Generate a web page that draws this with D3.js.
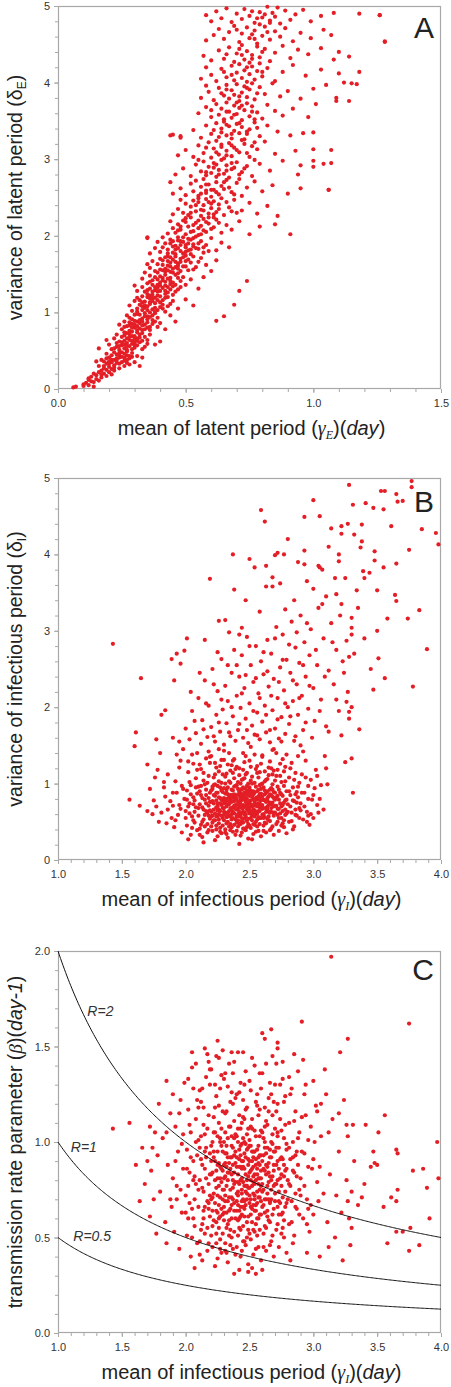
<!DOCTYPE html>
<html><head><meta charset="utf-8">
<script src="https://cdn.jsdelivr.net/npm/d3@7"></script>
<style>body{margin:0;background:#fff}svg{display:block}</style>
</head><body>
<svg id="c" width="451" height="1387"></svg>
<script>
// Panel A: mean vs variance of latent period
const latentPoints = [
[.06,.02],[.07,.03],[.10,.06],[.11,.08],[.12,.05],[.13,.10],[.12,.12],[.14,.09],[.15,.13],[.16,.11],[.17,.15],[.15,.18],[.18,.20],[.13,.16],[.19,.17],[.20,.22],[.17,.24],[.21,.19],[.16,.22],[.10,.04],[.14,.03],[.19,.25],[.22,.24],
[.16,.30],[.18,.27],[.19,.33],[.20,.29],[.21,.35],[.22,.31],[.23,.38],[.24,.33],[.25,.42],[.23,.45],[.26,.37],[.27,.44],[.28,.40],[.22,.48],[.20,.41],[.19,.46],[.25,.48],[.29,.47],[.30,.35],[.26,.30],[.24,.27],[.31,.43],[.17,.38],[.21,.26],[.28,.32],[.33,.41],[.18,.36],[.27,.49],[.24,.47],[.32,.30],[.15,.36],
[.21,.52],[.23,.55],[.25,.57],[.26,.53],[.27,.60],[.28,.56],[.29,.63],[.30,.58],[.31,.66],[.24,.62],[.22,.66],[.26,.70],[.28,.72],[.30,.69],[.32,.61],[.33,.73],[.34,.55],[.35,.64],[.27,.51],[.29,.52],[.25,.68],[.20,.58],[.31,.74],[.36,.71],[.38,.58],[.23,.71],[.27,.66],[.33,.52],[.40,.62],[.19,.64],[.30,.54],[.32,.67],
[.25,.78],[.27,.82],[.28,.76],[.29,.85],[.30,.80],[.31,.88],[.32,.79],[.33,.92],[.34,.84],[.35,.95],[.36,.81],[.37,.90],[.30,.97],[.28,.93],[.26,.88],[.33,.77],[.38,.99],[.40,.86],[.42,.78],[.24,.84],[.31,.98],[.35,.87],[.39,.93],[.44,.96],[.27,.96],[.32,.86],[.36,.77],[.46,.88],[.29,.91],[.34,.99],
[.29,1.02],[.31,1.05],[.32,1.10],[.33,1.03],[.34,1.14],[.35,1.08],[.36,1.18],[.37,1.04],[.38,1.12],[.39,1.22],[.40,1.07],[.41,1.16],[.42,1.01],[.43,1.20],[.30,1.15],[.28,1.09],[.35,1.24],[.38,1.19],[.44,1.11],[.47,1.05],[.50,1.17],[.36,1.00],[.33,1.21],[.45,1.23],[.40,1.13],[.31,1.19],[.37,1.23],[.53,1.09],[.42,1.24],[.34,1.06],
[.31,1.28],[.33,1.33],[.34,1.27],[.35,1.38],[.36,1.31],[.37,1.42],[.38,1.29],[.39,1.36],[.40,1.47],[.41,1.32],[.42,1.40],[.43,1.26],[.44,1.45],[.45,1.34],[.46,1.49],[.47,1.30],[.48,1.41],[.36,1.48],[.33,1.44],[.39,1.27],[.50,1.36],[.52,1.43],[.55,1.31],[.42,1.49],[.38,1.46],[.44,1.37],[.30,1.35],[.57,1.46],[.46,1.27],[.40,1.39],
[.34,1.52],[.36,1.58],[.38,1.54],[.39,1.63],[.40,1.56],[.41,1.68],[.42,1.53],[.43,1.61],[.44,1.72],[.45,1.57],[.46,1.66],[.47,1.51],[.48,1.70],[.49,1.60],[.50,1.74],[.51,1.55],[.52,1.65],[.43,1.73],[.40,1.70],[.37,1.67],[.54,1.59],[.56,1.71],[.58,1.62],[.47,1.64],[.45,1.52],[.60,1.54],[.35,1.63],[.53,1.73],[.62,1.68],[.44,1.60],
[.36,1.77],[.38,1.84],[.40,1.79],[.42,1.90],[.43,1.82],[.44,1.95],[.45,1.78],[.46,1.87],[.47,1.98],[.48,1.80],[.49,1.92],[.50,1.85],[.51,1.96],[.52,1.76],[.53,1.89],[.54,1.99],[.55,1.83],[.56,1.93],[.57,1.78],[.58,1.88],[.60,1.97],[.62,1.81],[.35,1.97],[.41,1.98],[.64,1.91],[.48,1.93],[.45,1.86],[.67,1.85],[.52,1.82],[.39,1.92],
[.43,2.03],[.45,2.10],[.46,2.04],[.47,2.15],[.48,2.08],[.49,2.20],[.50,2.02],[.51,2.12],[.52,2.24],[.53,2.06],[.54,2.17],[.55,2.01],[.56,2.13],[.57,2.22],[.58,2.05],[.59,2.16],[.60,2.09],[.62,2.21],[.64,2.04],[.66,2.14],[.44,2.19],[.50,2.23],[.68,2.08],[.71,2.19],[.75,2.02],[.55,2.10],[.61,2.24],[.47,2.07],[.79,2.12],[.58,2.18],
[.45,2.28],[.47,2.35],[.49,2.30],[.50,2.42],[.51,2.27],[.52,2.38],[.53,2.46],[.54,2.32],[.55,2.44],[.56,2.26],[.57,2.40],[.58,2.48],[.59,2.29],[.60,2.36],[.61,2.45],[.62,2.31],[.63,2.41],[.65,2.27],[.67,2.37],[.69,2.47],[.72,2.33],[.75,2.43],[.78,2.29],[.48,2.47],[.56,2.34],[.64,2.49],[.82,2.39],[.86,2.26],[.60,2.42],[.70,2.30],
[.45,2.55],[.48,2.62],[.50,2.53],[.52,2.68],[.53,2.58],[.54,2.72],[.55,2.52],[.56,2.64],[.57,2.74],[.58,2.56],[.59,2.67],[.60,2.51],[.61,2.60],[.62,2.70],[.63,2.54],[.64,2.65],[.66,2.73],[.68,2.57],[.70,2.69],[.72,2.52],[.74,2.63],[.77,2.71],[.80,2.58],[.84,2.66],[.90,2.55],[.95,2.62],[1.06,2.60],[.44,2.70],[.58,2.59],[.65,2.61],
[.46,2.80],[.49,2.88],[.52,2.78],[.54,2.93],[.56,2.84],[.57,2.97],[.58,2.79],[.59,2.90],[.60,2.82],[.61,2.95],[.62,2.77],[.63,2.86],[.64,2.99],[.65,2.81],[.66,2.92],[.67,2.76],[.68,2.87],[.70,2.96],[.72,2.83],[.74,2.91],[.76,2.78],[.79,2.94],[.83,2.85],[.88,2.98],[.94,2.80],[1.00,2.90],[.55,2.99],[.69,2.89],[.77,2.99],[.62,2.93],
[.47,3.05],[.50,3.12],[.53,3.03],[.55,3.18],[.57,3.08],[.59,3.22],[.60,3.02],[.61,3.14],[.62,3.24],[.63,3.06],[.64,3.16],[.65,3.01],[.66,3.11],[.67,3.21],[.68,3.04],[.69,3.15],[.71,3.09],[.73,3.20],[.75,3.03],[.78,3.13],[.81,3.23],[.85,3.07],[.93,3.11],[1.00,3.13],[1.07,3.12],[.58,3.15],[.72,3.25],[.64,3.19],[.76,3.17],
[.45,3.32],[.48,3.30],[.53,3.38],[.56,3.28],[.58,3.44],[.60,3.33],[.62,3.47],[.63,3.29],[.64,3.40],[.65,3.49],[.66,3.31],[.67,3.43],[.68,3.27],[.69,3.37],[.70,3.46],[.71,3.34],[.72,3.42],[.73,3.26],[.75,3.39],[.77,3.48],[.79,3.30],[.82,3.44],[.86,3.36],[.91,3.31],[.96,3.34],[1.00,3.35],[.61,3.38],[.74,3.33],[.66,3.45],
[.55,3.60],[.58,3.68],[.60,3.55],[.62,3.72],[.63,3.58],[.64,3.66],[.65,3.52],[.66,3.74],[.67,3.62],[.68,3.54],[.69,3.70],[.70,3.59],[.71,3.67],[.72,3.51],[.73,3.64],[.74,3.73],[.75,3.56],[.76,3.69],[.78,3.61],[.80,3.53],[.82,3.71],[.85,3.63],[.88,3.57],[.92,3.66],[.98,3.55],[1.01,3.72],[.60,3.64],[.70,3.74],[.77,3.52],
[.56,3.80],[.59,3.88],[.61,3.77],[.63,3.93],[.65,3.83],[.66,3.97],[.67,3.79],[.68,3.90],[.69,3.84],[.70,3.98],[.71,3.76],[.72,3.87],[.73,3.95],[.74,3.81],[.75,3.91],[.77,3.78],[.79,3.94],[.81,3.85],[.84,3.99],[.87,3.82],[.90,3.89],[.95,3.79],[1.00,3.92],[1.05,3.97],[1.09,3.80],[.64,3.86],[.76,3.99],[.58,3.96],
[.56,4.05],[.60,4.10],[.62,4.02],[.64,4.18],[.66,4.07],[.68,4.22],[.69,4.03],[.70,4.13],[.71,4.24],[.72,4.06],[.73,4.16],[.74,4.01],[.75,4.11],[.76,4.21],[.77,4.04],[.78,4.15],[.80,4.08],[.82,4.19],[.85,4.02],[.88,4.14],[.92,4.23],[.97,4.09],[1.03,4.17],[1.10,4.12],[.65,4.14],[.79,4.25],[.58,4.20],
[.57,4.35],[.60,4.29],[.63,4.42],[.65,4.31],[.67,4.46],[.69,4.27],[.70,4.38],[.72,4.49],[.73,4.30],[.74,4.41],[.75,4.26],[.76,4.36],[.78,4.47],[.79,4.33],[.81,4.44],[.83,4.28],[.85,4.39],[.88,4.48],[.91,4.32],[.94,4.43],[.98,4.37],[1.03,4.45],[1.08,4.30],[1.14,4.34],[.71,4.44],[.66,4.37],
[.58,4.55],[.61,4.62],[.63,4.70],[.65,4.57],[.67,4.66],[.69,4.74],[.71,4.53],[.72,4.64],[.74,4.72],[.75,4.58],[.77,4.68],[.78,4.51],[.80,4.61],[.81,4.73],[.83,4.56],[.85,4.67],[.87,4.60],[.89,4.71],[.92,4.54],[.95,4.65],[.99,4.58],[1.04,4.69],[1.07,4.62],[1.28,4.54],[.76,4.63],[.70,4.69],
[.58,4.88],[.60,4.80],[.62,4.93],[.64,4.84],[.66,4.97],[.68,4.79],[.70,4.90],[.72,4.83],[.73,4.96],[.75,4.87],[.77,4.78],[.79,4.92],[.80,4.85],[.82,4.99],[.83,4.81],[.84,4.91],[.85,4.86],[.87,4.77],[.89,4.94],[.91,4.82],[.93,4.89],[.96,4.95],[.99,4.80],[1.03,4.87],[1.08,4.91],[1.18,4.90],[1.26,4.88],[.86,4.98],[.78,4.84],
[.20,.33],[.23,.40],[.26,.46],[.21,.44],[.25,.35],[.28,.43],[.22,.28],[.19,.40],[.27,.34],[.24,.41],
[.26,.58],[.28,.64],[.30,.61],[.24,.56],[.27,.73],[.31,.57],[.29,.69],[.23,.60],[.34,.68],[.26,.63],
[.30,.84],[.32,.90],[.34,.78],[.28,.87],[.36,.94],[.33,.83],[.31,.77],[.37,.85],[.29,.80],[.35,.91],
[.34,1.09],[.36,1.13],[.38,1.06],[.32,1.16],[.40,1.21],[.37,1.15],[.39,1.03],[.35,1.20],[.41,1.10],[.33,1.13],
[.38,1.33],[.40,1.28],[.42,1.35],[.44,1.30],[.37,1.36],[.43,1.44],[.41,1.42],[.45,1.39],[.39,1.43],[.47,1.45],
[.42,1.57],[.44,1.65],[.46,1.59],[.48,1.54],[.41,1.62],[.45,1.69],[.50,1.67],[.43,1.55],[.49,1.72],[.47,1.61],
[.46,1.82],[.48,1.88],[.50,1.79],[.52,1.95],[.44,1.90],[.54,1.84],[.47,1.94],[.51,1.90],[.53,1.86],[.49,1.77],
[.44,3.31],[.48,3.28],[.35,1.98],[1.06,2.60],[.91,2.02],[.85,2.15],[.74,1.41],[.71,1.28],[.65,.95],[.62,.89],[.69,1.10],[.16,.53],[1.28,4.53],[1.26,4.88],[1.14,3.76],[1.09,3.76],[1.12,4.00],[1.15,3.99],[1.17,3.98],[1.18,4.14],[1.10,4.40],[1.07,2.95],[1.04,2.94],[1.00,2.98],[.95,2.92]
];
const latentPointsDense = [
[.12,.14],[.14,.20],[.17,.19],[.18,.30],[.20,.36],[.22,.38],[.23,.34],[.24,.44],[.26,.41],[.27,.38],[.29,.42],[.21,.38],
[.22,.53],[.24,.51],[.25,.61],[.27,.56],[.28,.68],[.29,.59],[.31,.63],[.32,.71],[.26,.74],[.30,.65],[.33,.63],[.35,.59],
[.26,.81],[.28,.83],[.30,.89],[.31,.82],[.33,.88],[.34,.95],[.35,.80],[.37,.96],[.32,.97],[.38,.88],[.29,.75],[.39,.81],
[.31,1.01],[.33,1.08],[.35,1.03],[.36,1.11],[.37,1.19],[.38,1.01],[.39,1.16],[.41,1.05],[.42,1.19],[.43,1.08],[.36,1.22],[.45,1.15],
[.35,1.29],[.37,1.27],[.39,1.32],[.40,1.35],[.41,1.45],[.43,1.33],[.44,1.41],[.46,1.36],[.48,1.33],[.42,1.28],[.49,1.46],[.36,1.40],
[.39,1.52],[.41,1.55],[.43,1.67],[.44,1.53],[.46,1.73],[.47,1.57],[.48,1.66],[.50,1.60],[.51,1.69],[.53,1.56],[.42,1.72],[.55,1.66],
[.41,1.85],[.43,1.77],[.45,1.93],[.47,1.84],[.49,1.98],[.51,1.81],[.53,1.97],[.55,1.90],[.57,1.85],[.59,1.80],[.46,1.76],[.50,1.88],
[.48,2.12],[.50,2.18],[.52,2.05],[.53,2.14],[.55,2.20],[.57,2.07],[.59,2.24],[.61,2.11],[.63,2.17],[.56,2.02],
[.52,2.30],[.54,2.40],[.57,2.33],[.59,2.44],[.61,2.28],[.63,2.35],[.66,2.44],[.68,2.32],[.55,2.49],
[.56,2.55],[.58,2.67],[.60,2.60],[.62,2.57],[.65,2.70],[.67,2.63],[.69,2.54],[.71,2.74],
[.58,2.83],[.61,2.89],[.63,2.80],[.66,2.85],[.68,2.95],[.71,2.80],[.73,2.88],
[.62,3.09],[.66,3.05],[.68,3.18],[.70,3.12],[.74,3.08],[.77,3.22],
[.64,3.35],[.68,3.33],[.71,3.47],[.74,3.36],[.78,3.41],
[.66,3.62],[.69,3.58],[.72,3.70],[.76,3.62],
[.66,3.91],[.71,3.82],[.74,3.93],[.78,3.86],
[.68,4.10],[.74,4.20],[.80,4.14],[.76,4.31],[.80,4.40],[.72,4.36],[.77,4.57],[.82,4.66],[.79,4.76],[.81,4.89],[.76,4.93],[.83,4.78]
];

// Panel B: mean vs variance of infectious period
const infectiousPoints = [
[1.81,0.62],[1.83,0.95],[1.85,0.48],[1.86,1.12],[1.88,0.77],[1.89,0.55],[1.84,0.83],
[1.90,0.71],[1.91,0.43],[1.92,1.03],[1.93,0.88],[1.94,0.59],[1.95,1.21],[1.96,0.67],[1.97,0.36],[1.98,0.93],[1.99,0.80],[1.92,0.52],[1.96,1.30],
[2.00,0.64],[2.01,0.91],[2.01,0.45],[2.02,1.15],[2.03,0.74],[2.04,0.33],[2.04,0.98],[2.05,0.57],[2.06,1.26],[2.06,0.82],[2.07,0.49],[2.08,0.69],[2.08,1.07],[2.09,0.39],[2.09,0.87],[2.03,0.61],[2.05,1.38],[2.07,0.78],[2.02,0.27],
[2.10,0.58],[2.10,0.96],[2.11,0.41],[2.11,0.73],[2.12,1.19],[2.12,0.85],[2.13,0.50],[2.13,0.30],[2.14,0.66],[2.14,1.04],[2.15,0.79],[2.15,0.44],[2.16,1.33],[2.16,0.92],[2.17,0.62],[2.17,0.36],[2.18,0.71],[2.18,1.10],[2.19,0.54],[2.19,0.88],[2.11,1.25],[2.13,0.69],[2.15,0.99],[2.17,0.47],[2.19,0.76],[2.14,0.23],[2.18,1.42],
[2.20,0.63],[2.20,0.91],[2.21,0.38],[2.21,0.77],[2.22,1.08],[2.22,0.52],[2.23,0.84],[2.23,1.27],[2.24,0.45],[2.24,0.69],[2.25,0.97],[2.25,0.31],[2.26,0.60],[2.26,1.16],[2.27,0.81],[2.27,0.42],[2.28,0.72],[2.28,1.01],[2.29,0.55],[2.29,0.89],[2.20,1.36],[2.22,0.66],[2.23,0.26],[2.24,1.21],[2.25,0.74],[2.26,0.48],[2.27,0.95],[2.28,0.35],[2.29,1.12],[2.21,0.58],[2.23,0.99],[2.25,0.57],[2.27,0.64],[2.29,0.78],[2.26,1.45],
[2.30,0.68],[2.30,0.94],[2.31,0.40],[2.31,0.75],[2.32,1.13],[2.32,0.56],[2.33,0.86],[2.33,0.29],[2.34,0.64],[2.34,1.03],[2.35,0.47],[2.35,0.79],[2.36,1.24],[2.36,0.60],[2.37,0.91],[2.37,0.37],[2.38,0.71],[2.38,1.07],[2.39,0.53],[2.39,0.83],[2.30,1.31],[2.31,0.62],[2.32,0.88],[2.33,0.50],[2.34,0.77],[2.35,1.17],[2.36,0.43],[2.37,0.69],[2.38,0.96],[2.39,0.33],[2.31,1.00],[2.33,0.73],[2.35,0.58],[2.37,0.82],[2.39,1.19],[2.32,0.34],[2.34,1.40],[2.36,0.92],[2.38,0.61],[2.30,0.81],
[2.40,0.66],[2.40,0.98],[2.41,0.44],[2.41,0.76],[2.42,1.11],[2.42,0.57],[2.43,0.87],[2.43,0.32],[2.44,0.68],[2.44,1.05],[2.45,0.49],[2.45,0.80],[2.46,1.28],[2.46,0.62],[2.47,0.93],[2.47,0.39],[2.48,0.73],[2.48,1.14],[2.49,0.54],[2.49,0.85],[2.40,1.22],[2.41,0.60],[2.42,0.90],[2.43,0.47],[2.44,0.79],[2.45,1.18],[2.46,0.41],[2.47,0.70],[2.48,0.97],[2.49,0.28],[2.41,1.02],[2.42,0.71],[2.43,0.59],[2.44,0.84],[2.45,0.63],[2.46,0.88],[2.47,1.36],[2.48,0.51],[2.49,0.75],[2.42,0.21],[2.44,0.36],[2.46,1.07],
[2.50,0.69],[2.50,0.95],[2.51,0.42],[2.51,0.78],[2.52,1.09],[2.52,0.58],[2.53,0.86],[2.53,0.34],[2.54,0.65],[2.54,1.01],[2.55,0.50],[2.55,0.81],[2.56,1.23],[2.56,0.61],[2.57,0.92],[2.57,0.38],[2.58,0.74],[2.58,1.15],[2.59,0.55],[2.59,0.87],[2.50,1.30],[2.51,0.63],[2.52,0.89],[2.53,0.47],[2.54,0.76],[2.55,1.19],[2.56,0.44],[2.57,0.71],[2.58,0.98],[2.59,0.31],[2.51,1.04],[2.53,0.72],[2.55,0.60],[2.57,0.83],[2.59,1.26],[2.52,0.27],[2.54,1.38],[2.56,0.90],[2.58,0.64],[2.50,0.84],
[2.60,0.67],[2.60,1.00],[2.61,0.45],[2.61,0.79],[2.62,1.16],[2.62,0.56],[2.63,0.88],[2.63,0.36],[2.64,0.70],[2.64,1.06],[2.65,0.52],[2.65,0.83],[2.66,1.29],[2.66,0.62],[2.67,0.94],[2.67,0.41],[2.68,0.75],[2.68,1.12],[2.69,0.58],[2.69,0.89],[2.60,1.35],[2.61,0.60],[2.62,0.91],[2.63,0.48],[2.64,0.81],[2.65,1.21],[2.66,0.39],[2.67,0.73],[2.68,0.99],[2.69,0.33],[2.62,1.03],[2.64,0.66],[2.66,0.86],[2.68,1.44],
[2.70,0.71],[2.70,1.04],[2.71,0.47],[2.71,0.82],[2.72,1.18],[2.72,0.59],[2.73,0.92],[2.73,0.38],[2.74,0.74],[2.74,1.10],[2.75,0.55],[2.75,0.86],[2.76,1.32],[2.76,0.64],[2.77,0.97],[2.77,0.43],[2.78,0.78],[2.78,1.22],[2.79,0.61],[2.79,0.90],[2.71,1.40],[2.73,0.67],[2.75,1.02],[2.77,0.52],[2.79,0.35],[2.72,0.84],
[2.80,0.73],[2.81,1.08],[2.81,0.50],[2.82,0.85],[2.83,1.27],[2.83,0.62],[2.84,0.95],[2.85,0.44],[2.85,0.77],[2.86,1.14],[2.87,0.58],[2.87,0.89],[2.88,1.36],[2.89,0.68],[2.89,1.01],[2.84,0.40],[2.86,0.66],[2.88,0.82],
[2.90,0.74],[2.91,1.12],[2.92,0.53],[2.93,0.88],[2.94,1.30],[2.95,0.63],[2.96,0.97],[2.97,0.46],[2.98,1.05],[2.99,0.79],[2.92,1.42],[2.96,0.58],
[3.00,0.85],[3.02,1.18],[3.04,0.62],[3.06,0.98],[3.09,1.36],[3.11,0.99],[3.03,0.72],
[1.95,1.55],[2.00,1.72],[2.03,1.58],[2.05,1.95],[2.08,1.66],[2.10,2.12],[2.12,1.52],[2.13,1.83],[2.15,2.35],[2.17,1.61],[2.18,2.02],[2.20,1.74],[2.21,2.50],[2.23,1.55],[2.24,1.90],[2.25,2.21],[2.27,1.68],[2.28,2.63],[2.29,1.97],[2.30,1.51],[2.31,2.28],[2.32,1.79],[2.33,2.08],[2.35,1.62],[2.36,2.45],[2.37,1.88],[2.38,2.75],[2.39,1.56],[2.40,2.15],[2.41,1.70],[2.42,2.40],[2.43,1.99],[2.44,2.68],[2.45,1.60],[2.46,2.25],[2.47,1.85],[2.48,2.92],[2.49,1.53],[2.50,2.05],[2.51,2.55],[2.52,1.76],[2.53,2.33],[2.54,1.64],[2.55,2.80],[2.56,1.93],[2.57,2.18],[2.58,1.58],[2.59,2.60],[2.60,1.81],[2.61,2.43],[2.62,2.02],[2.63,1.67],[2.64,2.88],[2.65,2.27],[2.66,1.54],[2.67,2.70],[2.68,1.96],[2.69,2.37],[2.70,1.72],[2.71,3.05],[2.72,2.12],[2.73,1.59],[2.74,2.52],[2.75,1.87],[2.76,2.95],[2.77,2.22],[2.78,1.65],[2.79,2.62],[2.80,2.00],[2.81,1.78],[2.82,2.45],[2.83,3.12],[2.84,2.08],[2.85,1.56],[2.86,2.78],[2.87,2.30],[2.88,1.90],[2.89,2.58],[2.90,3.20],[2.91,2.15],[2.92,1.70],[2.93,2.85],[2.94,2.40],[2.96,1.98],[2.97,2.68],[2.98,3.02],[3.00,2.25],[3.01,1.82],[3.03,2.55],[3.04,3.30],[3.06,2.10],[3.08,2.90],[3.10,1.75],[3.12,2.48],[3.14,3.10],[3.16,2.30],[3.18,2.75],[3.20,1.95],[3.23,2.60],[3.27,2.20],[3.30,2.95],[3.10,3.45],[3.00,3.55],[2.85,3.40],[2.78,3.28],[2.95,3.65],[3.07,3.80],
[1.43,2.83],[1.65,2.38],[1.56,0.79],[1.61,1.67],[1.60,1.49],[1.64,0.71],[1.70,1.25],[1.70,0.64],[1.74,0.60],[1.76,1.08],[1.77,1.58],[1.81,1.90],[1.84,1.96],[1.89,2.63],[1.93,2.70],[1.96,2.57],[1.99,2.74],[2.01,2.90],[1.91,2.35],[2.19,3.68],[2.26,3.13],[2.31,3.14],[2.37,4.00],[2.38,3.54],[2.34,2.98],[2.44,3.04],[2.50,3.94],[2.54,3.83],[2.59,4.58],[2.62,4.43],[2.63,3.85],[2.70,3.99],[2.72,4.02],[2.77,4.00],[2.63,3.58],[2.68,3.58],[2.74,3.62],[2.93,4.05],[2.93,3.87],[2.93,4.49],[3.00,4.71],[3.04,3.85],[3.05,3.83],[3.14,4.34],[3.22,4.37],[3.22,4.27],[3.20,4.00],[3.20,3.91],[3.27,4.40],[3.28,4.91],[3.31,4.65],[3.32,4.26],[3.38,4.39],[3.38,4.17],[3.37,4.09],[3.41,4.67],[3.47,4.61],[3.48,4.04],[3.48,3.92],[3.55,4.59],[3.55,3.83],[3.53,4.83],[3.56,4.83],[3.61,4.37],[3.65,4.79],[3.66,4.69],[3.70,4.70],[3.65,3.88],[3.75,4.06],[3.77,4.96],[3.77,4.88],[3.85,4.33],[3.96,4.28],[3.98,4.13],[3.83,3.27],[3.74,3.16],[3.58,3.16],[3.89,2.76],[3.78,2.27],[3.56,2.38],[3.50,3.00],[3.51,2.64],[3.47,2.23],[3.65,3.39],[3.64,3.47],[3.50,3.53],[3.39,3.78],[3.40,3.69],[3.44,3.76],[3.34,3.53],[3.30,3.17],[3.26,2.87],[3.28,2.66],[3.30,3.04],[3.25,3.69],[3.22,3.35],[3.36,1.71],[3.30,1.33],[3.25,1.28],[3.31,0.88],[3.22,1.63],[3.30,2.00],[3.28,1.94],[3.26,2.07],[3.17,3.69],[3.18,3.48],
[1.72,0.93],[1.75,0.78],[1.78,1.18],[1.79,0.50],[1.80,1.40],[1.77,0.70]
];
const infectiousPointsDense = [
[2.02,0.70],[2.04,0.86],[2.06,0.52],[2.08,0.95],[2.01,0.79],[2.03,1.02],[2.05,0.42],[2.07,0.63],[2.09,1.18],[2.00,0.55],[2.06,0.73],
[2.10,0.68],[2.11,0.90],[2.12,0.46],[2.13,0.81],[2.14,1.14],[2.15,0.59],[2.16,0.74],[2.17,1.01],[2.18,0.39],[2.19,0.65],[2.12,0.97],[2.14,0.53],[2.16,0.85],[2.18,0.58],[2.11,0.33],[2.19,1.27],
[2.20,0.76],[2.21,0.93],[2.21,0.49],[2.22,0.85],[2.23,0.61],[2.23,1.12],[2.24,0.78],[2.24,0.40],[2.25,0.88],[2.25,0.65],[2.26,1.03],[2.26,0.53],[2.27,0.74],[2.27,1.23],[2.28,0.58],[2.28,0.91],[2.29,0.45],[2.29,0.68],[2.22,0.98],[2.24,0.57],[2.26,0.82],[2.28,1.31],[2.20,0.44],[2.27,0.37],
[2.30,0.59],[2.30,0.74],[2.31,0.87],[2.31,1.09],[2.32,0.48],[2.32,0.70],[2.33,0.95],[2.33,0.62],[2.34,0.82],[2.34,0.44],[2.35,1.01],[2.35,0.68],[2.36,0.76],[2.36,0.53],[2.37,1.14],[2.37,0.63],[2.38,0.86],[2.38,0.46],[2.39,0.72],[2.39,0.97],[2.30,0.52],[2.32,0.80],[2.34,0.57],[2.36,0.85],[2.38,0.77],[2.31,0.36],[2.35,0.39],[2.33,1.25],[2.37,1.30],
[2.40,0.57],[2.40,0.80],[2.41,0.93],[2.41,0.67],[2.42,0.48],[2.42,0.84],[2.43,1.00],[2.43,0.73],[2.44,0.55],[2.44,0.92],[2.45,0.72],[2.45,1.06],[2.46,0.54],[2.46,0.79],[2.47,0.60],[2.47,0.85],[2.48,0.43],[2.48,0.66],[2.49,1.00],[2.49,0.69],[2.40,0.38],[2.42,1.20],[2.44,0.62],[2.46,0.70],[2.48,0.89],[2.41,0.52],[2.43,0.80],[2.45,0.41],[2.47,1.12],[2.49,0.47],[2.45,0.95],
[2.50,0.61],[2.50,0.77],[2.51,0.91],[2.51,0.55],[2.52,0.70],[2.52,1.00],[2.53,0.80],[2.53,0.60],[2.54,0.88],[2.54,0.46],[2.55,0.73],[2.55,0.96],[2.56,0.53],[2.56,0.79],[2.57,1.08],[2.57,0.64],[2.58,0.86],[2.58,0.47],[2.59,0.70],[2.59,0.99],[2.50,0.45],[2.52,0.83],[2.54,0.57],[2.56,1.14],[2.58,0.55],[2.51,1.22],[2.53,0.66],[2.55,0.37],[2.57,0.74],[2.59,0.78],
[2.60,0.59],[2.60,0.83],[2.61,0.95],[2.61,0.68],[2.62,0.49],[2.62,0.78],[2.63,1.05],[2.63,0.63],[2.64,0.90],[2.64,0.54],[2.65,0.72],[2.65,1.11],[2.66,0.75],[2.66,0.51],[2.67,0.85],[2.67,0.63],[2.68,0.92],[2.68,0.44],[2.69,0.70],[2.69,1.17],[2.61,0.38],[2.63,0.76],[2.65,0.63],[2.67,1.20],[2.69,0.81],
[2.70,0.62],[2.70,0.88],[2.71,0.71],[2.72,0.50],[2.72,0.96],[2.73,0.79],[2.74,0.61],[2.74,1.26],[2.75,0.70],[2.76,0.84],[2.76,0.48],[2.77,0.75],[2.78,0.59],[2.78,1.03],[2.79,0.79],[2.71,1.10],[2.73,0.55],[2.75,0.45],[2.77,1.16],
[2.80,0.63],[2.81,0.90],[2.82,0.70],[2.83,0.51],[2.84,0.78],[2.85,1.05],[2.86,0.59],[2.87,0.75],[2.88,0.96],[2.89,0.55],[2.82,1.20],[2.86,0.86],
[2.90,0.65],[2.91,0.88],[2.93,0.70],[2.94,1.08],[2.96,0.80],[2.98,0.60],[3.01,0.94],[3.03,1.10],[3.05,0.80],[3.08,0.66],[3.10,1.20],[2.95,0.50],[3.00,0.55],[1.95,0.72],[1.97,0.97],[1.90,0.88],[1.86,0.66],[1.83,1.02],
[1.90,1.60],[1.93,1.38],[1.98,1.45],[2.02,1.29],[2.04,2.20],[2.07,1.82],[2.09,1.40],[2.11,2.45],[2.14,1.71],[2.16,2.05],[2.19,1.35],[2.22,2.30],[2.22,1.62],[2.26,1.80],[2.28,2.10],[2.30,1.43],[2.33,2.55],[2.34,1.67],[2.36,2.00],[2.38,1.32],[2.40,2.55],[2.42,1.78],[2.44,2.18],[2.45,1.40],[2.47,2.42],[2.48,1.70],[2.50,2.80],[2.51,1.48],[2.53,1.95],[2.55,2.38],[2.56,1.63],[2.58,2.12],[2.60,1.37],[2.61,2.72],[2.63,1.90],[2.64,2.47],[2.66,1.70],[2.67,2.15],[2.69,1.45],[2.70,2.90],[2.72,1.84],[2.73,2.33],[2.75,1.55],[2.76,2.62],[2.78,2.05],[2.79,1.38],[2.81,2.82],[2.82,1.88],[2.84,2.35],[2.86,1.62],[2.87,2.98],[2.89,2.12],[2.90,1.50],[2.92,2.55],[2.94,1.80],[2.95,3.10],[2.97,2.28],[2.99,1.60],[3.02,2.75],[3.05,1.95],[3.07,3.35],[3.09,2.40],[3.12,1.68],[3.15,2.85],[3.18,2.10],[3.21,3.20],[3.24,2.45],[3.28,1.85],[3.32,2.70],[3.35,3.30],[3.40,2.90],[3.45,2.50],[2.58,3.25],[2.47,3.40],[2.68,3.70],[2.88,3.90],[3.12,4.10],[2.80,4.20],[3.05,4.50],[2.42,2.95],[2.25,2.72],[2.15,2.88]
];
const infectiousPointsCore = [
[2.16,0.64],[2.18,0.81],[2.20,0.57],[2.22,0.74],[2.24,0.88],[2.26,0.66],[2.28,0.79],[2.21,0.96],[2.23,0.52],[2.25,0.70],
[2.30,0.63],[2.31,0.77],[2.32,0.92],[2.33,0.58],[2.34,0.73],[2.35,0.85],[2.36,0.66],[2.37,0.55],[2.38,0.80],[2.39,0.67],
[2.40,0.72],[2.41,0.86],[2.42,0.63],[2.43,0.77],[2.44,0.51],[2.45,0.68],[2.46,0.83],[2.47,0.57],[2.48,0.80],[2.49,0.64],
[2.40,0.49],[2.42,0.76],[2.44,0.93],[2.46,0.60],[2.48,0.71],[2.41,0.58],[2.43,0.69],[2.45,0.86],[2.47,0.76],[2.49,0.91],
[2.50,0.66],[2.51,0.73],[2.52,0.52],[2.53,0.90],[2.54,0.71],[2.55,0.63],[2.56,0.82],[2.57,0.56],[2.58,0.69],[2.59,0.93],
[2.50,0.87],[2.52,0.62],[2.54,0.79],[2.56,0.70],[2.58,0.81],[2.60,0.72],[2.61,0.55],[2.62,0.86],[2.63,0.68],[2.64,0.78],
[2.65,0.57],[2.66,0.92],[2.67,0.68],[2.68,0.83],[2.69,0.62],[2.70,0.79],[2.72,0.67],[2.74,0.88],[2.76,0.72],[2.78,0.66]
];

// Panel C: mean infectious period vs transmission rate parameter
const transmissionPoints = [
[1.80,0.74],[1.82,1.02],[1.84,0.58],[1.86,0.88],[1.88,1.15],[1.89,0.66],[1.85,0.47],
[1.90,0.81],[1.91,0.53],[1.92,1.08],[1.93,0.70],[1.94,0.95],[1.95,0.44],[1.96,1.22],[1.97,0.63],[1.98,0.86],[1.99,1.31],[1.93,0.77],[1.97,0.99],
[2.00,0.72],[2.01,0.96],[2.01,0.51],[2.02,1.17],[2.03,0.84],[2.04,0.40],[2.04,1.05],[2.05,0.65],[2.06,1.28],[2.06,0.90],[2.07,0.56],[2.08,0.78],[2.08,1.12],[2.09,0.47],[2.09,0.93],[2.03,0.68],[2.05,1.39],[2.07,0.82],[2.02,0.60],
[2.10,0.66],[2.10,1.01],[2.11,0.48],[2.11,0.80],[2.12,1.21],[2.12,0.91],[2.13,0.57],[2.13,0.38],[2.14,0.74],[2.14,1.09],[2.15,0.86],[2.15,0.52],[2.16,1.34],[2.16,0.97],[2.17,0.69],[2.17,0.43],[2.18,0.78],[2.18,1.14],[2.19,0.61],[2.19,0.94],[2.11,1.27],[2.13,0.76],[2.15,1.04],[2.17,0.55],[2.19,0.83],[2.14,0.64],[2.18,1.42],
[2.20,0.70],[2.20,0.98],[2.21,0.45],[2.21,0.84],[2.22,1.13],[2.22,0.59],[2.23,0.90],[2.23,1.30],[2.24,0.52],[2.24,0.76],[2.25,1.03],[2.25,0.39],[2.26,0.67],[2.26,1.19],[2.27,0.87],[2.27,0.49],[2.28,0.79],[2.28,1.07],[2.29,0.62],[2.29,0.95],[2.20,1.38],[2.22,0.73],[2.23,0.35],[2.24,1.24],[2.25,0.81],[2.26,0.55],[2.27,1.00],[2.28,0.42],[2.29,1.16],[2.21,0.64],[2.23,1.05],[2.25,0.63],[2.27,0.71],[2.29,0.85],[2.26,1.44],
[2.30,0.75],[2.30,1.00],[2.31,0.47],[2.31,0.82],[2.32,1.16],[2.32,0.63],[2.33,0.92],[2.33,0.37],[2.34,0.71],[2.34,1.08],[2.35,0.54],[2.35,0.86],[2.36,1.26],[2.36,0.67],[2.37,0.97],[2.37,0.44],[2.38,0.78],[2.38,1.11],[2.39,0.60],[2.39,0.89],[2.30,1.33],[2.31,0.69],[2.32,0.94],[2.33,0.57],[2.34,0.84],[2.35,1.21],[2.36,0.50],[2.37,0.76],[2.38,1.02],[2.39,0.41],[2.31,1.05],[2.33,0.80],[2.35,0.65],[2.37,0.88],[2.39,1.23],[2.32,0.42],[2.34,1.41],[2.36,0.98],[2.38,0.68],[2.30,0.88],
[2.40,0.73],[2.40,1.03],[2.41,0.51],[2.41,0.83],[2.42,1.14],[2.42,0.64],[2.43,0.93],[2.43,0.40],[2.44,0.75],[2.44,1.10],[2.45,0.56],[2.45,0.87],[2.46,1.30],[2.46,0.69],[2.47,0.99],[2.47,0.46],[2.48,0.80],[2.48,1.18],[2.49,0.61],[2.49,0.91],[2.40,1.25],[2.41,0.67],[2.42,0.96],[2.43,0.54],[2.44,0.86],[2.45,1.22],[2.46,0.48],[2.47,0.77],[2.48,1.04],[2.49,0.36],[2.41,1.07],[2.42,0.78],[2.43,0.66],[2.44,0.90],[2.45,0.70],[2.46,0.94],[2.47,1.37],[2.48,0.58],[2.49,0.82],[2.42,0.33],[2.44,0.43],[2.46,1.12],
[2.50,0.76],[2.50,1.01],[2.51,0.49],[2.51,0.85],[2.52,1.12],[2.52,0.65],[2.53,0.92],[2.53,0.41],[2.54,0.72],[2.54,1.06],[2.55,0.57],[2.55,0.88],[2.56,1.25],[2.56,0.68],[2.57,0.98],[2.57,0.45],[2.58,0.81],[2.58,1.17],[2.59,0.62],[2.59,0.93],[2.50,1.32],[2.51,0.70],[2.52,0.95],[2.53,0.54],[2.54,0.83],[2.55,1.21],[2.56,0.51],[2.57,0.78],[2.58,1.03],[2.59,0.38],[2.51,1.08],[2.53,0.79],[2.55,0.67],[2.57,0.89],[2.59,1.28],[2.52,0.34],[2.54,1.40],[2.56,0.96],[2.58,0.71],[2.50,0.90],
[2.60,0.74],[2.60,1.05],[2.61,0.52],[2.61,0.86],[2.62,1.18],[2.62,0.63],[2.63,0.94],[2.63,0.43],[2.64,0.77],[2.64,1.09],[2.65,0.59],[2.65,0.89],[2.66,1.31],[2.66,0.69],[2.67,1.00],[2.67,0.48],[2.68,0.82],[2.68,1.14],[2.69,0.65],[2.69,0.95],[2.60,1.36],[2.61,0.67],[2.62,0.97],[2.63,0.55],[2.64,0.87],[2.65,1.23],[2.66,0.46],[2.67,0.80],[2.68,1.04],[2.69,0.40],[2.62,1.08],[2.64,0.73],[2.66,0.92],[2.68,1.45],
[2.70,0.78],[2.70,1.07],[2.71,0.54],[2.71,0.88],[2.72,1.20],[2.72,0.66],[2.73,0.97],[2.73,0.45],[2.74,0.81],[2.74,1.12],[2.75,0.62],[2.75,0.92],[2.76,1.33],[2.76,0.71],[2.77,1.02],[2.77,0.50],[2.78,0.85],[2.78,1.24],[2.79,0.68],[2.79,0.96],[2.71,1.41],[2.73,0.74],[2.75,1.06],[2.77,0.59],[2.79,0.42],[2.72,0.90],
[2.80,0.80],[2.81,1.10],[2.81,0.57],[2.82,0.91],[2.83,1.28],[2.83,0.69],[2.84,1.00],[2.85,0.51],[2.85,0.84],[2.86,1.16],[2.87,0.65],[2.87,0.95],[2.88,1.37],[2.89,0.75],[2.89,1.05],[2.84,0.47],[2.86,0.73],[2.88,0.88],
[2.90,0.81],[2.91,1.13],[2.92,0.60],[2.93,0.94],[2.94,1.30],[2.95,0.70],[2.96,1.01],[2.97,0.53],[2.98,1.08],[2.99,0.86],[2.92,1.43],[2.96,0.65],
[3.00,0.91],[3.02,1.19],[3.04,0.69],[3.06,1.03],[3.09,1.38],[3.11,0.58],[3.03,0.79],[3.13,0.83],[3.15,1.12],
[1.68,0.78],[1.72,1.08],[1.75,0.70],[1.77,0.52],[1.78,0.93],[1.73,0.85],[1.79,1.20],[3.18,0.72],[3.20,0.95],[3.22,0.63],[3.24,1.22],[3.26,0.80],[3.28,0.60],[3.32,0.90],[3.35,0.67],[3.17,0.50],[3.12,0.45],[3.05,0.40],[2.95,0.42],[2.82,0.38],[2.60,0.33],[2.55,0.31],[2.38,0.31],
[3.14,1.97],[2.91,1.63],[3.75,1.62],[3.27,1.54],[3.21,1.47],[2.60,1.57],[2.67,1.59],[2.62,1.54],[2.72,1.52],[2.72,1.49],[2.25,1.53],[2.05,1.47],[2.15,1.49],[2.17,1.46],[2.29,1.48],[2.36,1.47],[2.41,1.47],[2.45,1.47],[1.43,1.07],[1.56,1.10],[1.61,0.88],[1.64,0.69],[1.66,0.97],[1.70,0.90],[1.74,0.97],[1.76,1.05],[1.72,0.61],[3.97,1.00],[3.98,0.81],[3.91,0.60],[3.89,0.76],[3.83,0.46],[3.75,0.43],[3.78,0.85],[3.86,0.86],[3.76,0.55],[3.66,0.75],[3.61,0.71],[3.65,0.69],[3.65,0.96],[3.66,0.94],[3.58,0.47],[3.65,0.53],[3.70,0.53],[3.56,1.14],[3.55,0.66],[3.48,0.89],[3.50,0.88],[3.51,1.05],[3.45,0.87],[3.47,0.95],[3.41,1.09],[3.38,0.71],[3.40,0.78],[3.29,0.46],[3.30,0.55],[3.23,0.38],[3.27,0.69],[3.30,0.74],[3.31,1.09],[3.26,1.09],[3.27,1.03],[2.07,0.34],[2.49,0.32]
];
const transmissionPointsDense = [
[2.02,0.77],[2.04,0.92],[2.06,0.60],[2.08,1.00],[2.01,0.86],[2.03,1.09],[2.05,0.50],[2.07,0.70],[2.09,1.22],[2.00,0.63],[2.06,0.80],[1.96,0.75],[1.98,1.04],[1.92,0.90],[1.88,0.70],[1.85,1.05],
[2.10,0.75],[2.11,0.97],[2.12,0.54],[2.13,0.88],[2.14,1.18],[2.15,0.66],[2.16,0.81],[2.17,1.07],[2.18,0.47],[2.19,0.72],[2.12,1.03],[2.14,0.60],[2.16,0.92],[2.18,0.65],[2.11,0.41],[2.19,1.30],
[2.20,0.83],[2.21,1.00],[2.21,0.56],[2.22,0.92],[2.23,0.68],[2.23,1.18],[2.24,0.85],[2.24,0.47],[2.25,0.95],[2.25,0.72],[2.26,1.10],[2.26,0.60],[2.27,0.81],[2.27,1.28],[2.28,0.65],[2.28,0.98],[2.29,0.52],[2.29,0.75],[2.22,1.05],[2.24,0.64],[2.26,0.89],[2.28,1.35],[2.20,0.51],[2.27,0.44],
[2.30,0.66],[2.30,0.81],[2.31,0.94],[2.31,1.15],[2.32,0.55],[2.32,0.77],[2.33,1.02],[2.33,0.69],[2.34,0.89],[2.34,0.51],[2.35,1.08],[2.35,0.75],[2.36,0.83],[2.36,0.60],[2.37,1.20],[2.37,0.70],[2.38,0.93],[2.38,0.53],[2.39,0.79],[2.39,1.04],[2.30,0.59],[2.32,0.87],[2.34,0.64],[2.36,0.92],[2.38,0.84],[2.31,0.43],[2.35,0.46],[2.33,1.29],[2.37,1.36],
[2.40,0.64],[2.40,0.87],[2.41,1.00],[2.41,0.74],[2.42,0.55],[2.42,0.91],[2.43,1.07],[2.43,0.80],[2.44,0.62],[2.44,0.99],[2.45,0.79],[2.45,1.13],[2.46,0.61],[2.46,0.86],[2.47,0.67],[2.47,0.92],[2.48,0.50],[2.48,0.73],[2.49,1.07],[2.49,0.76],[2.40,0.45],[2.42,1.26],[2.44,0.69],[2.46,0.77],[2.48,0.96],[2.41,0.59],[2.43,0.87],[2.45,0.48],[2.47,1.17],[2.49,0.54],[2.45,1.02],
[2.50,0.68],[2.50,0.84],[2.51,0.98],[2.51,0.62],[2.52,0.77],[2.52,1.07],[2.53,0.87],[2.53,0.67],[2.54,0.95],[2.54,0.53],[2.55,0.80],[2.55,1.03],[2.56,0.60],[2.56,0.86],[2.57,1.14],[2.57,0.71],[2.58,0.93],[2.58,0.54],[2.59,0.77],[2.59,1.06],[2.50,0.52],[2.52,0.90],[2.54,0.64],[2.56,1.19],[2.58,0.62],[2.51,1.27],[2.53,0.73],[2.55,0.44],[2.57,0.81],[2.59,0.85],
[2.60,0.66],[2.60,0.90],[2.61,1.02],[2.61,0.75],[2.62,0.56],[2.62,0.85],[2.63,1.11],[2.63,0.70],[2.64,0.97],[2.64,0.61],[2.65,0.79],[2.65,1.16],[2.66,0.82],[2.66,0.58],[2.67,0.92],[2.67,0.70],[2.68,0.99],[2.68,0.51],[2.69,0.77],[2.69,1.21],[2.61,0.45],[2.63,0.83],[2.65,0.70],[2.67,1.25],[2.69,0.88],
[2.70,0.69],[2.70,0.95],[2.71,0.78],[2.72,0.57],[2.72,1.03],[2.73,0.86],[2.74,0.68],[2.74,1.30],[2.75,0.77],[2.76,0.91],[2.76,0.55],[2.77,0.82],[2.78,0.66],[2.78,1.09],[2.79,0.86],[2.71,1.16],[2.73,0.62],[2.75,0.52],[2.77,1.21],
[2.80,0.70],[2.81,0.97],[2.82,0.77],[2.83,0.58],[2.84,0.85],[2.85,1.11],[2.86,0.66],[2.87,0.82],[2.88,1.02],[2.89,0.62],[2.82,1.25],[2.86,0.93],[2.90,0.72],[2.91,0.95],[2.93,0.77],[2.94,1.14],[2.96,0.87],[2.98,0.67],[3.01,1.00],[3.03,1.16],[3.05,0.87],[3.08,0.73],[3.10,1.25],[2.95,0.57],[3.00,0.62],
[2.02,1.33],[2.08,1.41],[2.13,1.28],[2.19,1.38],[2.24,1.45],[2.31,1.36],[2.38,1.42],[2.43,1.31],[2.52,1.44],[2.58,1.36],[2.63,1.41],[2.70,1.30],[2.76,1.42],[2.81,1.34],[2.85,1.46],[2.93,1.25],[3.00,1.32],[3.06,1.20],[2.10,1.18],[1.95,1.15],[1.90,1.25],[1.85,1.32],[3.12,1.05],[3.20,1.15]
];
const transmissionPointsCore = [
[2.21,0.71],[2.23,0.80],[2.25,0.88],[2.27,0.61],[2.29,0.70],[2.22,0.95],[2.24,0.58],[2.26,0.77],[2.28,0.86],[2.30,0.63],
[2.31,0.72],[2.32,0.98],[2.33,0.84],[2.34,0.59],[2.35,0.92],[2.36,0.71],[2.37,0.80],[2.38,0.64],[2.39,0.95],[2.31,0.89],
[2.40,0.69],[2.41,0.79],[2.42,0.87],[2.43,0.61],[2.44,0.73],[2.45,0.90],[2.46,0.65],[2.47,0.83],[2.48,0.70],[2.49,0.97],
[2.40,0.92],[2.42,0.60],[2.44,0.81],[2.46,1.00],[2.48,0.77],[2.41,0.72],[2.43,0.98],[2.45,0.66],[2.47,0.74],[2.49,0.88],
[2.50,0.72],[2.51,0.80],[2.52,0.58],[2.53,0.95],[2.54,0.78],[2.55,0.64],[2.56,0.83],[2.57,0.92],[2.58,0.75],[2.59,0.69],
[2.50,0.98],[2.52,0.86],[2.54,0.70],[2.56,0.74],[2.58,0.88],[2.51,0.66],[2.53,0.82],[2.55,0.91],[2.57,0.60],[2.59,0.81],
[2.60,0.78],[2.61,0.93],[2.62,0.70],[2.63,0.88],[2.64,0.64],[2.65,0.84],[2.66,0.96],[2.67,0.75],[2.68,0.62],[2.69,0.85],
[2.70,0.73],[2.71,0.97],[2.72,0.80],[2.73,0.69],[2.74,0.91],[2.75,0.83],[2.76,0.63],[2.77,0.88],[2.78,0.74],[2.79,0.99],
[2.62,1.00],[2.66,0.68],[2.72,1.05],[2.36,1.03],[2.27,1.02],[2.20,0.90],[2.81,0.78],[2.84,0.92],[2.18,0.68],[2.15,0.95]
];

const xTicksA = [0, 0.5, 1.0, 1.5];
const yTicksAB = [0, 1, 2, 3, 4, 5];
const xTicksBC = [1.0, 1.5, 2.0, 2.5, 3.0, 3.5, 4.0];
const yTicksC = [0.0, 0.5, 1.0, 1.5, 2.0];
const reproductionNumbers = [2, 1, 0.5];
const curveLabels = ["R=2", "R=1", "R=0.5"];

const svg = d3.select("#c");
const L = 58, R = 441;
const RED = "#e41e26";
const FRAME = "#a8a8a8";
const SANS = "Arial, 'Liberation Sans', sans-serif";
const SERIF = "'Liberation Serif', 'Times New Roman', serif";

function minorTicks(domain, step) {
  const n = Math.round((domain[1] - domain[0]) / step);
  return d3.range(n + 1).map(i => domain[0] + i * step);
}

function panel(cfg) {
  const g = svg.append("g");
  const x = d3.scaleLinear().domain(cfg.xDomain).range([L, R]);
  const y = d3.scaleLinear().domain(cfg.yDomain).range([cfg.bottom, cfg.top]);

  const xMinor = d3.axisBottom(x).tickValues(minorTicks(cfg.xDomain, cfg.xMinor)).tickSize(3).tickFormat("");
  const yMinor = d3.axisLeft(y).tickValues(minorTicks(cfg.yDomain, cfg.yMinor)).tickSize(3).tickFormat("");
  g.append("g").attr("transform", `translate(0,${cfg.bottom})`).call(xMinor);
  g.append("g").attr("transform", `translate(${L},0)`).call(yMinor);
  const xMajor = d3.axisBottom(x).tickValues(cfg.xTicks).tickSize(4).tickPadding(6).tickFormat(cfg.xFmt);
  const yMajor = d3.axisLeft(y).tickValues(cfg.yTicks).tickSize(4).tickPadding(4).tickFormat(cfg.yFmt);
  g.append("g").attr("transform", `translate(0,${cfg.bottom})`).call(xMajor);
  g.append("g").attr("transform", `translate(${L},0)`).call(yMajor);
  g.selectAll(".domain").remove();
  g.selectAll(".tick line").attr("stroke", FRAME);
  g.selectAll(".tick text").attr("fill", "#333").style("font", "11px " + SANS);

  g.append("rect").attr("x", L + 0.5).attr("y", cfg.top + 0.5)
    .attr("width", R - L - 1).attr("height", cfg.bottom - cfg.top - 1)
    .attr("fill", "none").attr("stroke", FRAME).attr("stroke-width", 1.2);

  g.append("g").selectAll("circle").data(cfg.points).join("circle")
    .attr("cx", d => x(d[0])).attr("cy", d => y(d[1])).attr("r", 2.1).attr("fill", RED);

  if (cfg.curves) cfg.curves(g, x, y);

  g.append("text").attr("x", 434).attr("y", cfg.top + cfg.letterDy).attr("text-anchor", "end")
    .style("font", "30px " + SANS).attr("fill", "#222").text(cfg.letter);

  const xl = g.append("text").attr("x", (L + R) / 2 + 2).attr("y", cfg.bottom + 46)
    .attr("text-anchor", "middle").attr("fill", "#222").style("font", "20px " + SANS);
  cfg.xLabel(xl);

  const yl = g.append("text").attr("transform", `translate(22,${(cfg.top + cfg.bottom) / 2}) rotate(-90)`)
    .attr("text-anchor", "middle").attr("fill", "#222").style("font", "19.5px " + SANS);
  cfg.yLabel(yl);
}

function meanLabel(word, sub) {
  return t => {
    t.append("tspan").text(`mean of ${word} period (`);
    t.append("tspan").style("font-family", SERIF).style("font-style", "italic").text("γ");
    t.append("tspan").style("font-family", SERIF).style("font-style", "italic").style("font-size", "12px").attr("dy", 4).text(sub);
    t.append("tspan").attr("dy", -4).text(")(");
    t.append("tspan").style("font-style", "italic").text("day");
    t.append("tspan").text(")");
  };
}
function varLabel(word, sub) {
  return t => {
    t.append("tspan").text(`variance of ${word} period (δ`);
    t.append("tspan").style("font-size", "12px").attr("dy", 4).text(sub);
    t.append("tspan").attr("dy", -4).text(")");
  };
}

panel({
  letter: "A", letterDy: 32, top: 6, bottom: 389,
  xDomain: [0, 1.5], yDomain: [0, 5], xMinor: 0.1, yMinor: 0.2,
  xTicks: xTicksA, yTicks: yTicksAB, xFmt: d3.format(".1f"), yFmt: d3.format("d"),
  points: latentPoints.concat(latentPointsDense),
  xLabel: meanLabel("latent", "E"), yLabel: varLabel("latent", "E")
});

panel({
  letter: "B", letterDy: 34, top: 478, bottom: 860,
  xDomain: [1, 4], yDomain: [0, 5], xMinor: 0.1, yMinor: 0.2,
  xTicks: xTicksBC, yTicks: yTicksAB, xFmt: d3.format(".1f"), yFmt: d3.format("d"),
  points: infectiousPoints.concat(infectiousPointsDense, infectiousPointsCore),
  xLabel: meanLabel("infectious", "I"), yLabel: varLabel("infectious", "I")
});

panel({
  letter: "C", letterDy: 29, top: 951, bottom: 1333,
  xDomain: [1, 4], yDomain: [0, 2], xMinor: 0.1, yMinor: 0.1,
  xTicks: xTicksBC, yTicks: yTicksC, xFmt: d3.format(".1f"), yFmt: d3.format(".1f"),
  points: transmissionPoints.concat(transmissionPointsDense, transmissionPointsCore),
  xLabel: meanLabel("infectious", "I"),
  yLabel: t => {
    t.append("tspan").text("transmission rate parameter (");
    t.append("tspan").style("font-family", SERIF).style("font-style", "italic").text("β");
    t.append("tspan").text(")(");
    t.append("tspan").style("font-style", "italic").text("day-1");
    t.append("tspan").text(")");
  },
  curves: (g, x, y) => {
    const gammas = d3.range(0, 301).map(i => 1 + i * 0.01);
    const line = d3.line().x(d => x(d[0])).y(d => y(d[1]));
    reproductionNumbers.forEach(Rn => {
      g.append("path").attr("d", line(gammas.map(gm => [gm, Rn / gm])))
        .attr("fill", "none").attr("stroke", "#111").attr("stroke-width", 1);
    });
    const labelPos = [[1.23, 1.66], [1.10, 0.95], [1.12, 0.48]];
    curveLabels.forEach((lab, i) => {
      g.append("text").attr("x", x(labelPos[i][0])).attr("y", y(labelPos[i][1]))
        .style("font", "italic 14px " + SANS).attr("fill", "#333").text(lab);
    });
  }
});
</script>
</body></html>
